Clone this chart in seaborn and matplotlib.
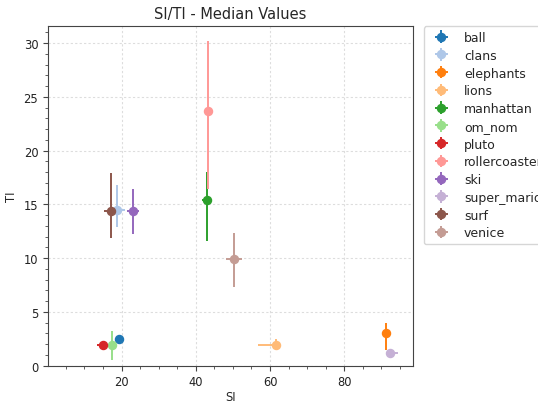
import matplotlib
matplotlib.use("Agg")
import matplotlib.pyplot as plt
import seaborn as sns
from matplotlib.ticker import AutoMinorLocator

videos = ["ball", "clans", "elephants", "lions", "manhattan", "om_nom",
          "pluto", "rollercoaster", "ski", "super_mario", "surf", "venice"]
si = [19.4, 18.9, 91.1, 61.6, 42.9, 17.5, 15.1, 43.2, 23.2, 92.4, 17.1, 50.4]
ti = [2.5, 14.5, 3.0, 1.9, 15.4, 1.9, 1.9, 23.65, 14.4, 1.2, 14.4, 9.9]
si_low = [19.0, 17.7, 90.3, 56.7, 41.8, 16.9, 13.5, 42.5, 21.5, 91.5, 15.3, 48.2]
si_high = [19.8, 21.0, 92.7, 62.6, 44.1, 18.1, 16.1, 43.9, 24.8, 94.5, 18.0, 52.5]
ti_low = [2.3, 12.9, 1.4, 1.4, 11.6, 0.5, 1.5, 16.4, 12.2, 1.0, 11.9, 7.3]
ti_high = [2.7, 16.8, 4.0, 2.5, 18.0, 3.2, 2.3, 30.2, 16.4, 1.4, 17.9, 12.3]

sns.set_style("ticks")
colors = sns.color_palette("tab20", len(videos))

fig = plt.figure(figsize=(5.38, 4.02), dpi=100)
ax = fig.add_axes([0.0892, 0.0883, 0.6785, 0.8445])

for i, name in enumerate(videos):
    xerr = [[si[i] - si_low[i]], [si_high[i] - si[i]]]
    yerr = [[ti[i] - ti_low[i]], [ti_high[i] - ti[i]]]
    ax.errorbar([si[i]], [ti[i]], xerr=xerr, yerr=yerr, fmt="o",
                color=colors[i], markersize=5.8, elinewidth=1.4, capsize=0,
                label=name)

ax.set_xlim(0.2, 98.5)
ax.set_ylim(0, 31.6)
ax.xaxis.set_minor_locator(AutoMinorLocator(4))
ax.yaxis.set_minor_locator(AutoMinorLocator(5))
ax.grid(True, which="major", linestyle=(0, (2, 2)), color="#dddddd", linewidth=0.8)
for s in ax.spines.values():
    s.set_color("#444444")
ax.tick_params(which="both", colors="#444444", labelcolor="#222222",
               labelsize=8.3)
ax.tick_params(which="major", length=3.5)
ax.tick_params(which="minor", length=2)

ax.set_title("SI/TI - Median Values", fontsize=10.5, pad=6)
ax.set_xlabel("SI", fontsize=8.3, labelpad=1)
ax.set_ylabel("TI", fontsize=8.3)
ax.legend(loc="upper left", bbox_to_anchor=(1.03, 1.0), borderaxespad=0,
          fontsize=9, labelspacing=0.38)

fig.savefig("out.png", dpi=100)
